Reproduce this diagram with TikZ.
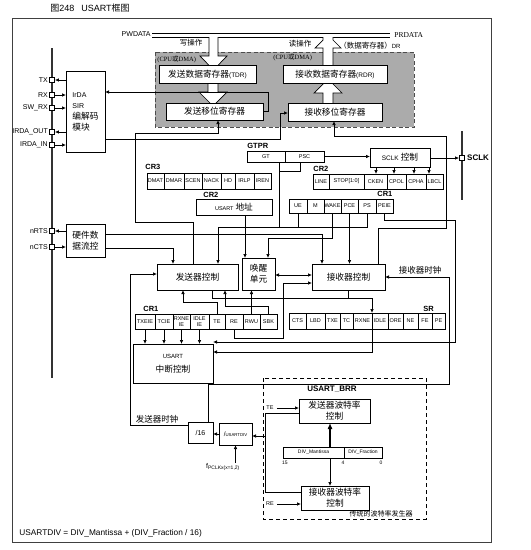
\documentclass[tikz,border=0pt]{standalone}
\usepackage{fontspec}
\setmainfont{Liberation Sans}
\newfontfamily\zh{Noto Sans CJK SC}
\newfontfamily\tms{Liberation Serif}
\usetikzlibrary{arrows.meta, positioning}
\newcommand{\sz}[2]{\fontsize{#1}{#2}\selectfont}

\begin{document}
\begin{tikzpicture}[
    x=1pt, y=-1pt, line width=0.7pt,
    box/.style={rectangle, draw, fill=white, inner sep=0pt, outer sep=0pt, align=center, font=\zh\sz{8.7}{11}},
    reg/.style={rectangle, draw, fill=white, inner sep=0pt, outer sep=0pt, align=center, font=\sz{5.5}{5.5}},
    regname/.style={inner sep=0pt, anchor=west, font=\bfseries\sz{7.5}{8}},
    pin/.style={rectangle, draw, fill=white, minimum size=5pt, inner sep=0pt},
    pinlbl/.style={inner sep=0pt, font=\sz{7}{8}},
    note/.style={inner sep=0pt, font=\zh\sz{8.5}{9}},
    arrow/.style={-{Latex[length=4pt, width=3.5pt]}}
]
\useasboundingbox (0,0) rectangle (531,550);

% title and frame
\node[inner sep=0pt, anchor=west, font=\sz{9}{10}] (title) at (50,8) {{\zh 图}248\hspace{7pt}USART{\zh 框图}};
\draw[black!75] (12,18) rectangle (491,542);

% pins
\draw[line width=1.2pt, black!80] (52,48) -- (52,378);
\foreach \nm/\txt/\y in {tx/TX/80, rx/RX/95, swrx/SW\_RX/108, irdaout/IRDA\_OUT/132, irdain/IRDA\_IN/145, nrts/nRTS/231, ncts/nCTS/247}{
  \node[pin] (\nm) at (52,\y) {};
  \node[pinlbl, left=1pt of \nm] (\nm-l) {\txt};
}
\draw[line width=1.2pt, black!80] (462,131) -- (462,200);
\node[pin] (sclk) at (462,158) {};
\node[regname, right=2pt of sclk, font=\bfseries\sz{8}{9}] (sclk-l) {SCLK};

% data registers
\draw[black!70, fill=black!33, dash pattern=on 4pt off 2.5pt, line width=0.9pt] (155,52) rectangle (414,127);
\draw (152,33) -- (390,33);
\draw (152,37) -- (209,37) (218,37) -- (323,37) (333,37) -- (390,37);
\filldraw[fill=white] (209,37) -- (209,56) -- (200,56) -- (213.5,70) -- (227,56) -- (218,56) -- (218,37);
\filldraw[fill=white] (208,83) -- (208,92) -- (199,92) -- (213,106) -- (227,92) -- (218,92) -- (218,83);
\filldraw[fill=white] (323,103) -- (323,93) -- (314,93) -- (328,79) -- (342,93) -- (333,93) -- (333,103);
\fill[white] (323,65) -- (323,48) -- (315,48) -- (323,40) -- (323,37) -- (333,37) -- (333,40) -- (341,48) -- (333,48) -- (333,65) -- cycle;
\draw (323,65) -- (323,48) -- (315,48) -- (323,40) -- (323,37) (333,37) -- (333,40) -- (341,48) -- (333,48) -- (333,65);

\node[pinlbl, anchor=east] (pwdata) at (151,34) {PWDATA};
\node[inner sep=0pt, anchor=west, font=\tms\sz{7.5}{8}] (prdata) at (394,35) {PRDATA};
\node[note, font=\zh\sz{7.5}{8}] (wrop) at (191,43) {写操作};
\node[note, font=\zh\sz{7.5}{8}] (rdop) at (300,44) {读操作};
\node[note, anchor=west, font=\zh\sz{7.5}{8}] (drlbl) at (339,46) {（数据寄存器）{\rmfamily\sz{6}{7}DR}};
\node[inner sep=0pt, anchor=west, font=\tms\sz{6.5}{7}] (cpu1) at (157,59) {(CPU{\zh 或}DMA)};
\node[inner sep=0pt, anchor=west, font=\tms\sz{6.5}{7}] (cpu2) at (273,57) {(CPU{\zh 或}DMA)};

\node[box, minimum width=97pt, minimum height=18pt] (tdr) at (207.5,74) {发送数据寄存器{\rmfamily\sz{6.5}{7}(TDR)}};
\node[box, minimum width=97pt, minimum height=17pt] (txsr) at (214.5,111.5) {发送移位寄存器};
\node[box, minimum width=104pt, minimum height=18pt] (rdr) at (335,74) {接收数据寄存器{\rmfamily\sz{6.5}{7}(RDR)}};
\node[box, minimum width=94pt, minimum height=18pt] (rxsr) at (335,112) {接收移位寄存器};

% blocks
\node[box, minimum width=39pt, minimum height=81pt, align=left] (irda) at (85.5,111.5) {{\rmfamily\sz{7}{9}IrDA}\\{\rmfamily\sz{7}{9}SIR}\\编解码\\模块};
\node[box, minimum width=39pt, minimum height=33pt] (flow) at (85.5,240.5) {硬件数\\据流控};
\node[box, minimum width=60pt, minimum height=19pt] (sclkctl) at (400,157.5) {{\rmfamily\sz{6.5}{7}SCLK} 控制};
\node[box, minimum width=76pt, minimum height=16pt] (addr) at (234,207) {{\rmfamily\sz{5.5}{6}USART} 地址};
\node[box, minimum width=81pt, minimum height=26pt] (txctl) at (197.5,277) {发送器控制};
\node[box, minimum width=33pt, minimum height=32pt] (wake) at (258.5,274) {唤醒\\单元};
\node[box, minimum width=73pt, minimum height=26pt] (rxctl) at (348.5,277) {接收器控制};
\node[box, minimum width=80pt, minimum height=39pt] (intr) at (173,363.5) {{\rmfamily\sz{6}{7}USART}\\[3pt]中断控制};
\node[box, minimum width=25pt, minimum height=21pt] (div16) at (200.5,432.5) {{\rmfamily\sz{7}{8}/16}};
\node[box, minimum width=33pt, minimum height=22pt] (usartdiv) at (235.5,434) {{\rmfamily\sz{6.5}{7}/}{\rmfamily\sz{4.3}{5}USARTDIV}};
\node[inner sep=0pt, font=\sz{7}{8}] (pclk) at (223,467) {f\textsubscript{PCLKx(x=1,2)}};

% control registers
\node[regname] (cr3-l) at (145,167) {CR3};
\foreach \nm/\txt/\xl/\xr in {dmat/DMAT/147/164, dmar/DMAR/164/184, scen/SCEN/184/202, nack/NACK/202/221, hd/HD/221/235, irlp/IRLP/235/254, iren/IREN/254/271}
  \node[reg, minimum width={(\xr-\xl)*1pt}, minimum height=16pt] (\nm) at ({(\xl+\xr)/2},181) {\txt};
\node[regname] (gtpr-l) at (247,146) {GTPR};
\foreach \nm/\txt/\xl/\xr in {gt/GT/247/285, psc/PSC/285/324}
  \node[reg, minimum width={(\xr-\xl)*1pt}, minimum height=11pt] (\nm) at ({(\xl+\xr)/2},156.5) {\txt};
\node[regname] (cr2a-l) at (313,169) {CR2};
\foreach \nm/\txt/\xl/\xr in {linen/LINE/313/329, stop/STOP[1:0]/329/364, cken/CKEN/364/387, cpol/CPOL/387/406, cpha/CPHA/406/426, lbcl/LBCL/426/443}
  \node[reg, minimum width={(\xr-\xl)*1pt}, minimum height=15pt] (\nm) at ({(\xl+\xr)/2},181.5) {\txt};
\node[regname] (cr2b-l) at (203,195) {CR2};
\node[regname] (cr1a-l) at (377,194) {CR1};
\foreach \nm/\txt/\xl/\xr in {ue/UE/289/307, mbit/M/307/324, wakebit/WAKE/324/341, pce/PCE/341/358, ps/PS/358/376, peie/PEIE/376/393}
  \node[reg, minimum width={(\xr-\xl)*1pt}, minimum height=14pt] (\nm) at ({(\xl+\xr)/2},206) {\txt};
\node[regname] (cr1b-l) at (143,309) {CR1};
\foreach \nm/\txt/\xl/\xr in {txeie/TXEIE/135/155, tcie/TCIE/155/173, rxneie/RXNE\\IE/173/190, idleie/IDLE\\IE/190/209, te/TE/209/225, re/RE/225/243, rwu/RWU/243/260, sbk/SBK/260/277}
  \node[reg, minimum width={(\xr-\xl)*1pt}, minimum height=15pt] (\nm) at ({(\xl+\xr)/2},321.5) {\txt};
\node[regname] (sr-l) at (423,309) {SR};
\foreach \nm/\txt/\xl/\xr in {cts/CTS/289/306, lbd/LBD/306/325, txe/TXE/325/340, tc/TC/340/353, rxne/RXNE/353/372, idle/IDLE/372/388, ore/ORE/388/403, ne/NE/403/418, fe/FE/418/432, pe/PE/432/445}
  \node[reg, minimum width={(\xr-\xl)*1pt}, minimum height=16pt] (\nm) at ({(\xl+\xr)/2},321) {\txt};

% pins to IrDA and flow control
\draw[arrow] (irda.west |- tx) -- (tx.east);
\draw[arrow] (rx.east) -- (irda.west |- rx);
\draw[arrow] (swrx.east) -- (irda.west |- swrx);
\draw[arrow] (irda.west |- irdaout) -- (irdaout.east);
\draw[arrow] (irdain.east) -- (irda.west |- irdain);
\draw[arrow] (flow.west |- nrts) -- (nrts.east);
\draw[arrow] (ncts.east) -- (flow.west |- ncts);

% shift registers
\draw[arrow] (txsr.east) -- (268,111.5) -- (268,92) -- (irda.east |- 0,92);
\draw[arrow] (txctl.north -| 193,0) -- (193,222) -- (135,222) -- (135,133) -- (218,133) -- (txsr.south -| 218,0);
\draw[arrow] (irda.east |- 0,139) -- (280,139) -- (280,113) -- (rxsr.west |- 0,113);
\draw[arrow] (rxctl.north -| 378,0) -- (378,228) -- (446,228) -- (446,136) -- (334,136) -- (rxsr.south -| 334,0);

% SCLK
\draw[arrow] (psc.east) -- (sclkctl.west |- psc.east);
\draw[arrow] (sclkctl.east |- sclk) -- (sclk.west);
\foreach \cell/\x in {cken/376, cpol/394, cpha/414, lbcl/429}
  \draw[arrow] (sclkctl.south -| \x,0) -- (\cell.north -| \x,0);

% CR1 / GTPR bus
\draw (gt.south -| 279,0) -- (279,227);
\draw (279,171) -- (300,171) -- (psc.south -| 300,0);
\draw (ue.south) -- (ue.south |- 0,227);
\draw[arrow] (ps.south) -- (ps.south |- 0,227) -- (218,227) -- (txctl.north -| 218,0);
\draw[arrow] (flow.east |- 0,234) -- (322,234) -- (rxctl.north -| 322,0);
\draw[arrow] (flow.east |- 0,248) -- (173,248) -- (txctl.north -| 173,0);

% wake-up unit
\draw[arrow] (addr.south -| 245,0) -- (wake.north -| 245,0);
\draw[arrow] (wakebit.south) -- (wakebit.south |- 0,238) -- (268,238) -- (wake.north -| 268,0);
\draw[arrow] (pce.south) -- (rxctl.north -| pce.south);
\draw[{Latex[length=4pt, width=3.5pt]}-{Latex[length=4pt, width=3.5pt]}] (wake.east |- 0,275) -- (rxctl.west |- 0,275);
\draw[arrow] (rwu.north) -- (wake.south -| rwu.north);

% CR1 bits to controllers
\draw[arrow] (te.north) -- (te.north |- 0,302) -- (183,302) -- (txctl.south -| 183,0);
\draw[arrow] (sbk.north) -- (sbk.north |- 0,306) -- (225,306) -- (txctl.south -| 225,0);
\draw[arrow] (re.south) -- (re.south |- 0,338) -- (283,338) -- (283,283) -- (rxctl.west |- 0,283);

% status and interrupts
\draw (rxctl.south) -- (rxctl.south |- 0,298);
\draw[arrow] (txctl.south -| 212,0) -- (212,298) -- (372,298) -- (idle.north west);
\draw[arrow] (idle.south west) -- (372,352) -- (intr.east |- 0,352);
\foreach \cell in {txeie, tcie, rxneie, idleie}
  \draw[arrow] (\cell.south) -- (intr.north -| \cell.south);
\draw[arrow] (peie.south) -- (peie.south |- 0,220) -- (455,220) -- (455,342) -- (intr.east |- 0,342);

% clocks
\node[note] (txclk-l) at (157,419) {发送器时钟};
\node[note] (rxclk-l) at (420,270) {接收器时钟};
\draw[arrow] (div16.west |- 0,425) -- (130,425) -- (130,274) -- (txctl.west |- 0,274);
\draw[arrow] (div16.north -| 208,0) -- (208,384) -- (449,384) -- (449,277) -- (rxctl.east |- 0,277);
\draw[arrow] (usartdiv.west) -- (usartdiv.west -| div16.east);
\draw[arrow] (pclk.north -| usartdiv.south) -- (usartdiv.south);

% baud rate generator
\draw[dash pattern=on 4pt off 3pt] (263,378) rectangle (426,519);
\node[regname, anchor=center, font=\bfseries\sz{8}{9}] (brr-l) at (332,389) {USART\_BRR};
\node[box, minimum width=71pt, minimum height=24pt] (txbaud) at (334.5,411) {发送器波特率\\控制};
\node[box, minimum width=68pt, minimum height=24pt] (rxbaud) at (335,498) {接收器波特率\\控制};
\node[reg, minimum width=61pt, minimum height=11pt, font=\sz{5}{5}] (mant) at (313.5,452.5) {DIV\_Mantissa};
\node[reg, minimum width=38pt, minimum height=11pt, font=\sz{5}{5}] (frac) at (363,452.5) {DIV\_Fraction};
\node[inner sep=0pt, font=\sz{5}{6}] (b15) at (285,463) {15};
\node[inner sep=0pt, font=\sz{5}{6}] (b4) at (343,463) {4};
\node[inner sep=0pt, font=\sz{5}{6}] (b0) at (381,463) {0};
\node[inner sep=0pt, font=\sz{5.5}{6}] (tein) at (270,408) {TE};
\node[inner sep=0pt, font=\sz{5.5}{6}] (rein) at (270,504) {RE};
\node[note, font=\zh\sz{7}{8}] (legacy) at (381,514) {传统的波特率发生器};
\draw[-{Latex[length=6pt, width=5pt]}, line width=1.1pt] (mant.north -| 330,0) -- (txbaud.south -| 330,0);
\draw[arrow] (mant.south -| 330,0) -- (rxbaud.north -| 330,0);
\draw[arrow] ([xshift=3pt]tein.east) -- (txbaud.west |- tein.east);
\draw[arrow] ([xshift=3pt]rein.east) -- (rxbaud.west |- rein.east);
\coordinate (bauds) at (265,436);
\draw (txbaud.west |- 0,413) -- (265,413) -- (265,492) -- (rxbaud.west |- 0,492);
\draw[arrow] (bauds) -- (usartdiv.east |- bauds);

\node[inner sep=0pt, anchor=west, font=\sz{8.3}{9}] (formula) at (19,533) {USARTDIV = DIV\_Mantissa + (DIV\_Fraction / 16)};
\end{tikzpicture}
\end{document}
